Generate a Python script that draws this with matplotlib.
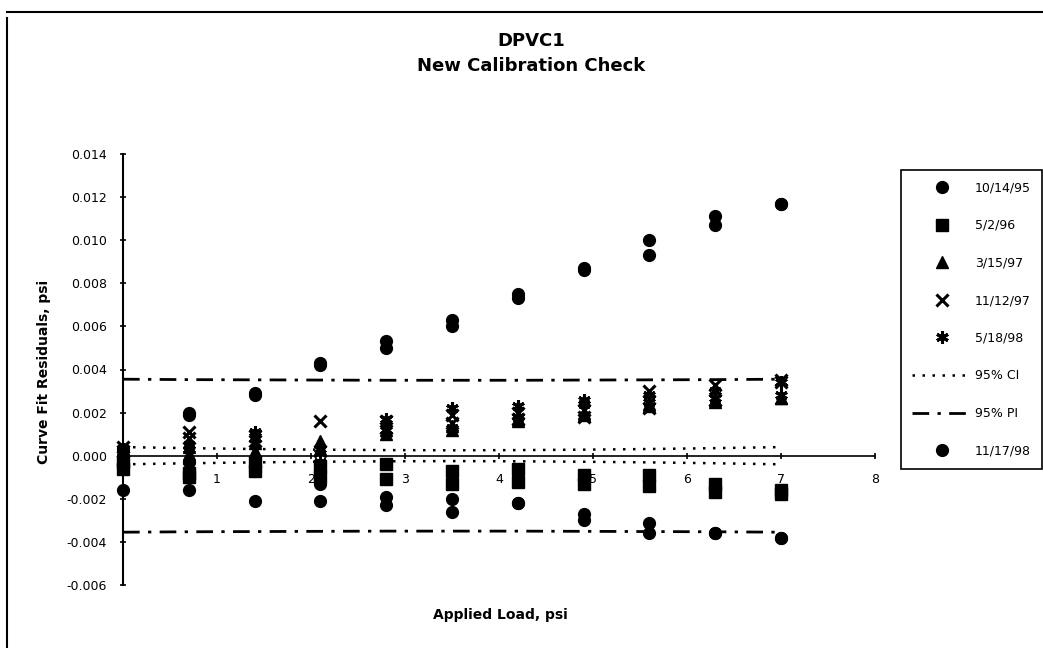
import matplotlib
matplotlib.use('Agg')
import matplotlib.pyplot as plt
from matplotlib.lines import Line2D

# applied load steps, psi
loads = [0.0, 0.7, 1.4, 2.1, 2.8, 3.5, 4.2, 4.9, 5.6, 6.3, 7.0]
x_ticks = [1, 2, 3, 4, 5, 6, 7, 8]
y_ticks = [-0.006, -0.004, -0.002, 0.0, 0.002, 0.004, 0.006, 0.008, 0.010, 0.012, 0.014]

# curve fit residuals, two readings per load (up / down)
r_101495_up = [0.0003, 0.0020, 0.0029, 0.0043, 0.0053, 0.0063, 0.0075, 0.0087, 0.0100, 0.0111, 0.0117]
r_101495_dn = [0.0000, 0.0019, 0.0028, 0.0042, 0.0050, 0.0060, 0.0073, 0.0086, 0.0093, 0.0107, 0.0117]
r_050296_up = [-0.0003, -0.0008, -0.0003, -0.0005, -0.0004, -0.0007, -0.0006, -0.0009, -0.0009, -0.0013, -0.0016]
r_050296_dn = [-0.0006, -0.0010, -0.0007, -0.0010, -0.0011, -0.0013, -0.0012, -0.0013, -0.0014, -0.0017, -0.0018]
r_031597_up = [0.0001, 0.0004, 0.0006, 0.0007, 0.0012, 0.0014, 0.0017, 0.0019, 0.0023, 0.0025, 0.0027]
r_031597_dn = [-0.0002, 0.0001, 0.0002, 0.0003, 0.0010, 0.0012, 0.0016, 0.0020, 0.0024, 0.0026, 0.0027]
r_111297_up = [0.0004, 0.0011, 0.0009, 0.0016, 0.0016, 0.0019, 0.0020, 0.0018, 0.0022, 0.0026, 0.0035]
r_111297_dn = [0.0002, 0.0008, 0.0007, 0.0002, 0.0013, 0.0015, 0.0017, 0.0021, 0.0030, 0.0033, 0.0034]
r_051898_up = [0.0003, 0.0005, 0.0011, 0.0003, 0.0017, 0.0022, 0.0023, 0.0026, 0.0028, 0.0030, 0.0034]
r_051898_dn = [0.0000, 0.0003, 0.0008, -0.0003, 0.0012, 0.0013, 0.0018, 0.0024, 0.0025, 0.0027, 0.0028]
r_111798_up = [-0.0004, -0.0016, -0.0021, -0.0021, -0.0019, -0.0020, -0.0022, -0.0027, -0.0031, -0.0036, -0.0038]
r_111798_dn = [-0.0016, -0.0003, -0.0007, -0.0013, -0.0023, -0.0026, -0.0022, -0.0030, -0.0036, -0.0036, -0.0038]

# confidence / prediction bands
ci_upper = [0.00040, 0.00035, 0.00031, 0.00028, 0.00026, 0.00025, 0.00026, 0.00028, 0.00031, 0.00035, 0.00040]
ci_lower = [-v for v in ci_upper]
pi_upper = [0.00355, 0.00353, 0.00352, 0.00351, 0.00350, 0.00350, 0.00350, 0.00351, 0.00352, 0.00353, 0.00355]
pi_lower = [-v for v in pi_upper]

plt.rcParams['axes.unicode_minus'] = False

fig = plt.figure(figsize=(10.43, 6.48), dpi=100)
ax = fig.add_axes([123 / 1043, 1 - 585 / 648, 752 / 1043, 431 / 648])

xx = loads + loads
ax.plot(xx, r_101495_up + r_101495_dn, 'o', color='k', ms=8.5, label='10/14/95', clip_on=False, zorder=3)
ax.plot(xx, r_050296_up + r_050296_dn, 's', color='k', ms=8, label='5/2/96', clip_on=False, zorder=3)
ax.plot(xx, r_031597_up + r_031597_dn, '^', color='k', ms=8, label='3/15/97', clip_on=False, zorder=3)
ax.plot(xx, r_111297_up + r_111297_dn, 'x', color='k', ms=8, mew=2.2, label='11/12/97', clip_on=False, zorder=3)
ax.plot(xx, r_051898_up + r_051898_dn, marker=(6, 2, 0), ls='none', color='k', ms=9, mew=2.2,
        label='5/18/98', clip_on=False, zorder=3)
ax.plot(loads, ci_upper, color='k', lw=1.8, ls=(0, (1, 3)), label='95% CI', zorder=2)
ax.plot(loads, ci_lower, color='k', lw=1.8, ls=(0, (1, 3)), zorder=2)
ax.plot(loads, pi_upper, color='k', lw=2, ls=(0, (6, 3, 1.2, 3)), label='95% PI', zorder=2)
ax.plot(loads, pi_lower, color='k', lw=2, ls=(0, (6, 3, 1.2, 3)), zorder=2)
ax.plot(xx, r_111798_up + r_111798_dn, 'o', color='k', ms=8.5, label='11/17/98', clip_on=False, zorder=3)

ax.set_xlim(0, 8)
ax.set_ylim(-0.006, 0.014)
ax.spines['top'].set_visible(False)
ax.spines['right'].set_visible(False)
ax.spines['bottom'].set_position(('data', 0))
ax.spines['left'].set_linewidth(1.5)
ax.spines['bottom'].set_linewidth(1.2)
ax.set_xticks(x_ticks)
ax.set_yticks(y_ticks)
ax.set_yticklabels(['%.3f' % v for v in y_ticks])
ax.tick_params(axis='x', direction='inout', length=5, width=1.2, pad=10, labelsize=9)
ax.tick_params(axis='y', direction='inout', length=5, width=1.2, pad=9, labelsize=9)

fig.text(531 / 1043, 1 - 41 / 648, 'DPVC1', ha='center', va='center', fontsize=13, fontweight='bold')
fig.text(531 / 1043, 1 - 66 / 648, 'New Calibration Check', ha='center', va='center',
         fontsize=13, fontweight='bold')
fig.text(500 / 1043, 1 - 615 / 648, 'Applied Load, psi', ha='center', va='center',
         fontsize=10, fontweight='bold')
fig.text(44 / 1043, 1 - 372 / 648, 'Curve Fit Residuals, psi', ha='center', va='center',
         rotation=90, fontsize=10, fontweight='bold')

leg = ax.legend(loc='upper left', bbox_to_anchor=(901 / 1043, 1 - 170 / 648), bbox_transform=fig.transFigure,
                fontsize=9, handlelength=4.8, handletextpad=0.2, labelspacing=1.97, borderpad=0.9,
                borderaxespad=0, fancybox=False, framealpha=1, edgecolor='k', numpoints=1)
leg.get_frame().set_linewidth(1.2)

# outer chart border
fig.add_artist(Line2D([7 / 1043, 1], [1 - 12 / 648, 1 - 12 / 648], color='k', lw=1.5, transform=fig.transFigure))
fig.add_artist(Line2D([7 / 1043, 7 / 1043], [0, 1 - 18 / 648], color='k', lw=1.5, transform=fig.transFigure))

fig.savefig('out.png', dpi=100)
